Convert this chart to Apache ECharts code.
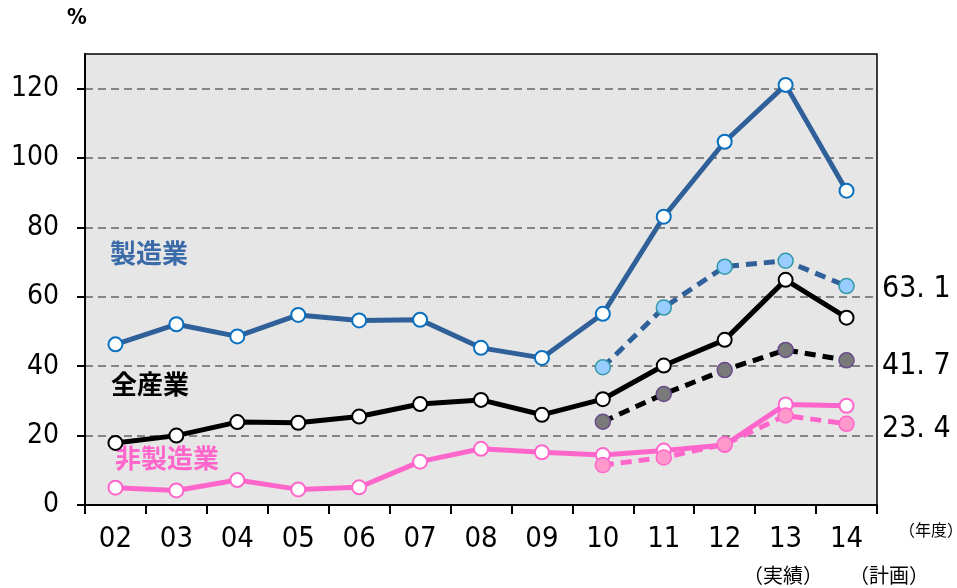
<!DOCTYPE html>
<html>
<head>
<meta charset="utf-8">
<script src="https://cdn.jsdelivr.net/npm/echarts@6/dist/echarts.min.js"></script>
<style>
  html, body { margin: 0; padding: 0; background: #fff; }
  #chart { width: 957px; height: 588px; }
</style>
</head>
<body>
<div id="chart"></div>
<script>
// 年度
const years = ['02', '03', '04', '05', '06', '07', '08', '09', '10', '11', '12', '13', '14'];
const yTicks = [0, 20, 40, 60, 80, 100, 120];

// 実績
const mfg = [46.3, 52.1, 48.6, 54.8, 53.2, 53.4, 45.3, 42.4, 55.1, 83.1, 104.7, 121.1, 90.6];
const allInd = [17.9, 20.0, 23.9, 23.7, 25.5, 29.1, 30.3, 26.0, 30.5, 40.2, 47.6, 64.9, 54.0];
const nonMfg = [5.0, 4.2, 7.2, 4.5, 5.1, 12.5, 16.2, 15.2, 14.4, 15.7, 17.3, 29.0, 28.6];

// 計画 (10年度から)
const mfgPlan = [null, null, null, null, null, null, null, null, 39.7, 56.9, 68.7, 70.4, 63.1];
const allPlan = [null, null, null, null, null, null, null, null, 24.0, 32.0, 38.9, 44.7, 41.7];
const nonMfgPlan = [null, null, null, null, null, null, null, null, 11.5, 13.7, 17.5, 25.8, 23.4];

const endLabels = ['63. 1', '41. 7', '23. 4'];

const numFont = "'DejaVu Sans Condensed', 'Liberation Sans Narrow', sans-serif";
const jpFont = "'Noto Sans CJK JP', sans-serif";

function solid(name, data, lineColor, borderColor) {
  return {
    name: name, type: 'line', data: data,
    symbol: 'circle', symbolSize: 14,
    lineStyle: { color: lineColor, width: 5 },
    itemStyle: { color: '#fff', borderColor: borderColor, borderWidth: 2 },
    z: 3
  };
}

function dashed(name, data, lineColor, fill, borderColor) {
  return {
    name: name, type: 'line', data: data,
    symbol: 'circle', symbolSize: 15,
    lineStyle: { color: lineColor, width: 5, type: [11, 7] },
    itemStyle: { color: fill, borderColor: borderColor, borderWidth: 1.5 },
    z: 4
  };
}

const chart = echarts.init(document.getElementById('chart'));
chart.setOption({
  animation: false,
  grid: {
    left: 85, right: 80, top: 54, bottom: 83,
    show: true, backgroundColor: '#e6e6e6', borderColor: '#000', borderWidth: 1.5
  },
  xAxis: {
    type: 'category', data: years, boundaryGap: true,
    axisLine: { lineStyle: { color: '#000', width: 2 } },
    axisTick: { show: true, length: 9, lineStyle: { color: '#000', width: 2 } },
    axisLabel: { color: '#000', fontSize: 29, fontFamily: numFont, margin: 20 }
  },
  yAxis: {
    type: 'value', min: 0, max: 130, interval: 20,
    axisLine: { show: true, lineStyle: { color: '#000', width: 2 } },
    axisTick: { show: true, length: 8, customValues: yTicks, lineStyle: { color: '#000', width: 2 } },
    axisLabel: {
      color: '#000', fontSize: 28, fontFamily: numFont, margin: 26,
      customValues: yTicks,
      formatter: v => (v > 120 ? '' : String(v))
    },
    splitLine: { show: true, lineStyle: { color: '#858585', width: 2, type: [8, 5] } }
  },
  series: [
    solid('製造業', mfg, '#2f6099', '#0a70c0'),
    solid('全産業', allInd, '#000', '#000'),
    solid('非製造業', nonMfg, '#ff66cc', '#ff66cc'),
    dashed('製造業計画', mfgPlan, '#2f6099', '#99ccff', '#3399aa'),
    dashed('全産業計画', allPlan, '#000', '#7a7a7a', '#6a4a8a'),
    dashed('非製造業計画', nonMfgPlan, '#ff66cc', '#ff99cc', '#ff66cc')
  ],
  graphic: [
    { type: 'text', left: 67, top: 7, style: { text: '%', fontSize: 22, fontWeight: 'bold', fill: '#000', fontFamily: numFont } },
    { type: 'text', left: 110, top: 240, style: { text: '製造業', fontSize: 26, fontWeight: 'bold', fill: '#3a6aa8', fontFamily: jpFont } },
    { type: 'text', left: 111, top: 371, style: { text: '全産業', fontSize: 26, fontWeight: 'bold', fill: '#000', fontFamily: jpFont } },
    { type: 'text', left: 115, top: 445, style: { text: '非製造業', fontSize: 26, fontWeight: 'bold', fill: '#ff66cc', fontFamily: jpFont } },
    { type: 'text', left: 882, top: 274, style: { text: endLabels[0], fontSize: 30, fill: '#000', fontFamily: numFont } },
    { type: 'text', left: 882, top: 351, style: { text: endLabels[1], fontSize: 30, fill: '#000', fontFamily: numFont } },
    { type: 'text', left: 882, top: 414, style: { text: endLabels[2], fontSize: 30, fill: '#000', fontFamily: numFont } },
    { type: 'text', x: 899, y: 522, style: { text: '（年度）', fontSize: 16, fill: '#000', fontFamily: jpFont } },
    { type: 'text', x: 743, y: 565, style: { text: '（実績）', fontSize: 20, fill: '#000', fontFamily: jpFont } },
    { type: 'text', x: 849, y: 565, style: { text: '（計画）', fontSize: 20, fill: '#000', fontFamily: jpFont } }
  ]
});
</script>
</body>
</html>
